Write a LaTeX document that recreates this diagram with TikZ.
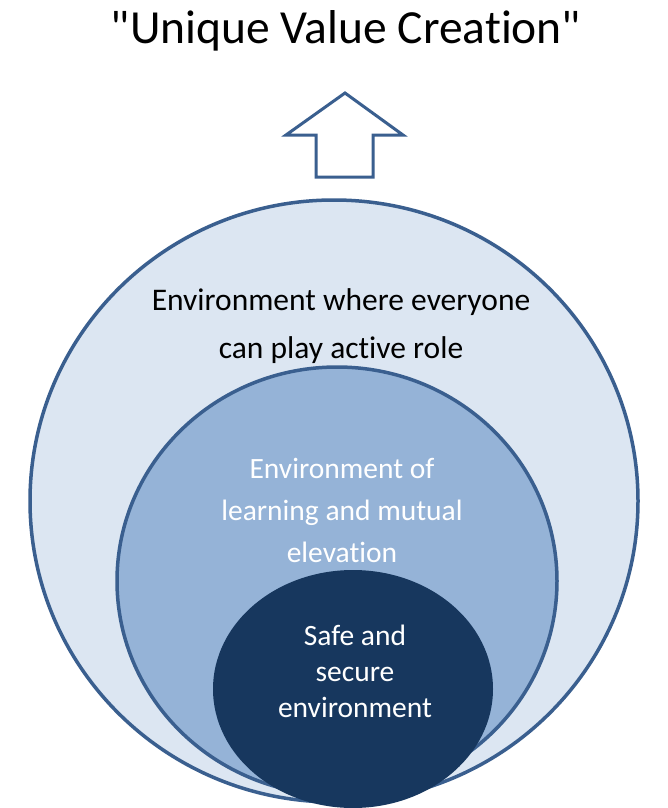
\documentclass[tikz,border=0pt]{standalone}
\usepackage{fontspec}
\setmainfont{Carlito}[Ligatures={TeXOff,NoCommon}]
\usetikzlibrary{positioning}
\definecolor{rimblue}{HTML}{3A5F8F}
\definecolor{paleblue}{HTML}{DCE6F2}
\definecolor{midblue}{HTML}{95B3D7}
\definecolor{deepblue}{HTML}{17375E}
\tikzset{
  ring/.style={draw=rimblue,line width=3.5pt},
  label/.style={align=center,inner sep=0pt}
}
\begin{document}
\begin{tikzpicture}[x=1pt,y=-1pt]
      \useasboundingbox (0,0) rectangle (667,808);
      \fill[white] (0,0) rectangle (667,808);
      % nested circles
      \draw[ring,fill=paleblue] (334,501) ellipse (304 and 301);
      \draw[ring,fill=midblue] (337,581) ellipse (220 and 214);
      \fill[deepblue] (353,689) ellipse (140 and 119);
      % arrow up
      \draw[rimblue,line width=3pt,line join=miter]
        (345,93) -- (403,135) -- (373,135) -- (373,177) -- (316,177) -- (316,135) -- (286,135) -- cycle;
      \node[label,font=\fontsize{47.5}{56}\selectfont] (title) at (346,31) {"Unique Value Creation"};
      \node[label,font=\fontsize{31.5}{48}\selectfont] (outer) at (341,326) {Environment where everyone\\can play active role};
      \node[label,white,font=\fontsize{29.5}{42}\selectfont] (middle) at (342,510) {Environment of\\learning and mutual\\elevation};
      \node[label,white,font=\fontsize{29.5}{36}\selectfont] (inner) at (355,671) {Safe and\\secure\\environment};
\end{tikzpicture}
\end{document}
